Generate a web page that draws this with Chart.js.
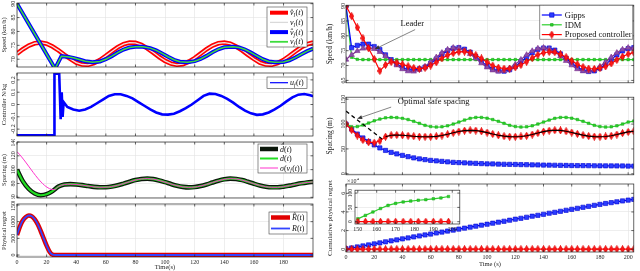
<!DOCTYPE html>
<html>
<head>
<meta charset="utf-8">
<script src="https://cdn.jsdelivr.net/npm/chart.js@4.4.1/dist/chart.umd.min.js"></script>
<style>
  html, body { margin: 0; padding: 0; background: #fff; }
  body { position: relative; width: 640px; height: 271px; overflow: hidden; }
  .plot { position: absolute; }
  .plot canvas { display: block; }
</style>
</head>
<body>
<script>
// ---- values ----
// right panel time base (markers every 4 s), also used for the leader on the left
const tR = [0,4,8,12,16,20,24,28,32,36,40,44,48,52,56,60,64,68,72,76,80,84,88,92,96,100,
  104,108,112,116,120,124,128,132,136,140,144,148,152,156,160,164,168,172,176,180,184,188,192,196,200,204];

const leaderSpeed = [72,73.6,74.9,75.75,76.0,75.6,74.6,73.2,71.6,70.1,68.8,68.1,68.0,68.6,69.7,71.2,
  72.8,74.3,75.4,76.0,75.9,75.2,73.9,72.4,70.8,69.4,68.4,68.0,68.2,69.1,70.4,72.0,73.6,74.9,75.75,
  76.0,75.6,74.6,73.2,71.6,70.1,68.8,68.1,68.0,68.6,69.7,71.2,72.8,74.3,75.4,76.0,75.9];
const gippsSpeed = [90,76,76.8,77.2,77.2,76.4,75.4,73.6,72.0,70.5,69.3,68.6,68.5,68.9,69.5,70.7,72.2,
  73.8,75.0,75.8,76.0,75.5,74.5,73.0,71.4,69.9,68.8,68.2,68.1,68.6,69.7,71.2,72.8,74.3,75.4,75.9,
  75.9,75.2,73.9,72.4,70.8,69.4,68.4,68.0,68.2,69.1,70.4,72.0,73.6,74.9,75.7,76.0];
const idmSpeed = [90,72.8,72.1,72,72,72,72,72,72,72,72,72,72,72,72,72,72,72,72,72,72,72,72,72,72,72,
  72,72,72,72,72,72,72,72,72,72,72,72,72,72,72,72,72,72,72,72,72,72,72,72,72,72];
const propSpeed = [90,86.6,82.8,79.2,75.8,72.2,68.2,70.2,71.2,71.0,70.4,69.8,69.2,68.9,69.2,70.0,71.1,
  72.4,73.5,74.2,74.6,74.7,74.3,73.5,72.4,71.1,70.0,69.3,69.0,69.0,69.4,70.2,71.3,72.5,73.6,74.3,
  74.6,74.5,73.8,72.8,71.6,70.4,69.5,69.0,68.9,69.1,69.7,70.7,71.9,73.0,73.9,74.4];

const gippsGap = [100,90,80,72,65,58,52,47,43,40,37,34.5,32,30,28.5,27,26,25,24,23,22.5,22,21.5,21,
  20.5,20,19.8,19.5,19.2,19,18.8,18.5,18.3,18,17.8,17.6,17.4,17.2,17,16.8,16.6,16.5,16.4,16.3,16.2,
  16.1,16,15.9,15.8,15.7,15.6,15.5];
const idmGap = [100,94.5,95,98,102,106.5,110,112.5,113.5,113,111.5,109,105.5,101.5,97.5,95,94,94.5,
  96.5,100,104,108,111.5,113.3,113.3,111.8,109,105.5,101.5,97.5,95,94,94.5,96.5,100,104,108,111.5,
  113.3,113.3,111.8,109,105.5,101.5,97.5,95,94,94.5,96.5,100,104,106];
const propGap = [100,88,77,68,63.5,62.5,66,74.5,77.5,78,77.5,76.5,75.5,74.8,74.5,74.6,75.4,77,79.5,
  82.5,85,86.8,87.5,87,85.3,82.8,80,77.5,75.6,74.7,74.5,75,76.5,79,82,84.8,86.8,87.6,87.2,85.5,83,
  80.2,77.7,75.8,74.8,74.5,75,76.5,79,81.8,84.2,85.5];
const optimalT = [0, 25.5];
const optimalV = [126, 70];

// cumulative physical regret, in units of 10^4
const gippsRegret = [0.05,0.13,0.24,0.35,0.46,0.57,0.68,0.79,0.9,1.0,1.11,1.21,1.32,1.42,1.53,1.63,
  1.74,1.84,1.95,2.05,2.16,2.26,2.37,2.47,2.58,2.68,2.79,2.9,3.0,3.11,3.22,3.32,3.43,3.54,3.64,3.75,
  3.86,3.96,4.07,4.18,4.28,4.39,4.5,4.6,4.71,4.81,4.91,5.0,5.09,5.18,5.27,5.35];
const propRegret = [0,0,0,0,0,0,0,0,0,0,0,0,0,0,0,0,0,0,0,0,0,0,0,0,0,0,
  0,0,0,0,0,0,0,0,0,0,0,0,0,0,0,0,0,0,0,0,0,0,0,0,0,0];
const insetT = [150,154,158,162,166,170,174,178,182,186,190,194,198];
const idmInset = [10,22,34,46,57,64,69,72,75,77,80,83,88];
const propInset = [0,0,0,0,0,0,0,0,0,0,0,0,0];

// left panel
const followerT = [0,25.7,30,34,38,42,46,51,56,60,64,68,72,76,80,85,90,94,98,102,106,110,115,120,
  124,128,132,136,140,146,150,154,158,162,166,170,174,180,184,188,192,196,200];
const followerV = [90,66.6,71.1,70.9,70.5,69.9,69.3,68.9,69.2,70.0,71.1,72.4,73.5,74.2,74.5,74.5,74.0,
  73.2,72.1,70.9,69.8,69.1,68.9,69.3,70.1,71.2,72.5,73.6,74.3,74.5,74.2,73.5,72.4,71.2,70.0,69.2,
  68.9,69.0,69.6,70.6,71.8,72.9,73.8];
const ctrlT = [0,25,25.3,28.5,29.5,30.2,30.8,31.5,34,38,42,46,50,54,58,62,66,70,74,78,82,86,90,94,
  98,102,106,110,114,118,122,126,130,134,138,142,146,150,154,158,162,166,170,174,178,182,186,190,194,198,200];
const ctrlV = [-0.25,-0.25,0.25,0.25,-0.12,0.1,-0.1,0.02,-0.02,-0.04,-0.05,-0.04,-0.02,0.01,0.04,0.07,
  0.083,0.083,0.07,0.05,0.02,-0.01,-0.04,-0.065,-0.08,-0.082,-0.075,-0.055,-0.03,0.0,0.035,0.07,0.088,
  0.085,0.07,0.045,0.015,-0.02,-0.05,-0.072,-0.084,-0.08,-0.065,-0.04,-0.01,0.025,0.058,0.08,0.085,0.075,0.068];
const gapLeft = [100,83,72,65.5,63,64.5,69,75.5,78.5,79,78.6,77.6,76.3,75.1,74.5,74.6,75.5,77.3,79.8,
  82.5,84.9,86.5,87,86.3,84.4,81.9,79.2,76.8,75.1,74.4,74.8,76.3,78.6,81.4,84,86,87,86.6,84.9,82.4,
  79.6,77.1,75.3,74.5,74.5,75.4,76.9,78.6,80.2,81.5,82.4];
const sigmaT = [0, 25];
const sigmaV = [126, 71];
const regT = [0,2,4,6,8,10,12,14,16,18,20,22,24,26,28,200];
const regV = [600,860,1040,1140,1185,1160,1070,920,720,500,280,100,10,0,0,0];

// tick labels
const leftXTicks = [0,20,40,60,80,100,120,140,160,180];
const rightXTicks = [0,20,40,60,80,100,120,140,160,180,200];
const insetXTicks = [150,160,170,180,190,200];

// ---- drawing helpers ----
const INK = '#262626', GRID = '#e3e3e3';
const FONT = '"Liberation Serif", "DejaVu Serif", serif';
Chart.defaults.font.family = FONT;
Chart.defaults.color = INK;

function pts(T, V) { return V.map((v, i) => ({ x: T[i], y: v })); }

function line(data, color, width, extra) {
  return Object.assign({ data, borderColor: color, backgroundColor: color, borderWidth: width,
    pointRadius: 0, fill: false, tension: 0 }, extra || {});
}

function diamondImg(w, h, fill, stroke) {
  const c = document.createElement('canvas');
  c.width = w; c.height = h;
  const g = c.getContext('2d');
  g.beginPath();
  g.moveTo(w / 2, 0.5); g.lineTo(w - 0.5, h / 2); g.lineTo(w / 2, h - 0.5); g.lineTo(0.5, h / 2);
  g.closePath();
  g.fillStyle = fill; g.fill();
  g.strokeStyle = stroke; g.lineWidth = 0.9; g.stroke();
  return c;
}
const redDiamond = diamondImg(5, 8, '#ff1a1a', '#e00000');

function drawParts(ctx, x, y, parts, size) {
  ctx.textAlign = 'left'; ctx.textBaseline = 'alphabetic'; ctx.fillStyle = '#111';
  const base = y + size * 0.33;
  parts.forEach(([t, k]) => {
    const sub = k === 's';
    const fs = sub ? size * 0.72 : size;
    ctx.font = (k === 'n' ? '' : 'italic ') + fs + 'px ' + FONT;
    ctx.fillText(t, x, base + (sub ? size * 0.22 : 0));
    x += ctx.measureText(t).width + (sub ? 0.4 : 0);
  });
}

function drawMarker(ctx, m, x, y) {
  if (m.img) { ctx.drawImage(m.img, x - m.img.width / 2, y - m.img.height / 2); return; }
  ctx.fillStyle = m.fill; ctx.strokeStyle = m.stroke; ctx.lineWidth = 0.6;
  ctx.beginPath(); ctx.rect(x - m.s / 2, y - m.s / 2, m.s, m.s); ctx.fill(); ctx.stroke();
}

function arrow(ctx, x0, y0, x1, y1) {
  const a = Math.atan2(y1 - y0, x1 - x0), L = 5, W = 2, c = Math.cos(a), s = Math.sin(a);
  ctx.strokeStyle = '#333'; ctx.fillStyle = '#333'; ctx.lineWidth = 0.6;
  ctx.beginPath(); ctx.moveTo(x0, y0); ctx.lineTo(x1 - L * 0.8 * c, y1 - L * 0.8 * s); ctx.stroke();
  ctx.beginPath(); ctx.moveTo(x1, y1);
  ctx.lineTo(x1 - L * c + W * s, y1 - L * s - W * c);
  ctx.lineTo(x1 - L * c - W * s, y1 - L * s + W * c);
  ctx.closePath(); ctx.fill();
}

// box around the axes with inward tick marks
const frame = {
  id: 'frame',
  afterDatasetsDraw(chart) {
    const { ctx, chartArea: a, scales: { x, y } } = chart;
    ctx.save();
    ctx.strokeStyle = INK; ctx.lineWidth = 0.7;
    ctx.strokeRect(a.left, a.top, a.right - a.left, a.bottom - a.top);
    ctx.beginPath();
    x.ticks.forEach(t => {
      const p = x.getPixelForValue(t.value);
      ctx.moveTo(p, a.bottom); ctx.lineTo(p, a.bottom - 2.5);
      ctx.moveTo(p, a.top); ctx.lineTo(p, a.top + 2.5);
    });
    y.ticks.forEach(t => {
      const p = y.getPixelForValue(t.value);
      ctx.moveTo(a.left, p); ctx.lineTo(a.left + 2.5, p);
      ctx.moveTo(a.right, p); ctx.lineTo(a.right - 2.5, p);
    });
    ctx.stroke();
    ctx.restore();
  }
};

// y tick labels written sideways, like the original
function yLabels(vals, labels, size, gap) {
  return {
    id: 'ylab',
    afterDraw(chart) {
      const { ctx, chartArea: a, scales: { y } } = chart;
      ctx.save();
      ctx.font = size + 'px ' + FONT;
      ctx.fillStyle = INK; ctx.textAlign = 'center'; ctx.textBaseline = 'alphabetic';
      vals.forEach((v, i) => {
        ctx.save();
        ctx.translate(a.left - gap, y.getPixelForValue(v));
        ctx.rotate(-Math.PI / 2);
        ctx.fillText(labels[i], 0, 0);
        ctx.restore();
      });
      ctx.restore();
    }
  };
}

function legendBox(L) {
  return {
    id: 'lbox',
    afterDraw(chart) {
      const { ctx, chartArea: a } = chart;
      const x = a.right - L.right - L.w, y = a.top + L.top;
      ctx.save();
      ctx.fillStyle = '#fff'; ctx.fillRect(x, y, L.w, L.h);
      ctx.strokeStyle = '#444'; ctx.lineWidth = 0.6; ctx.strokeRect(x, y, L.w, L.h);
      L.rows.forEach((r, i) => {
        const cy = y + L.first + i * L.step;
        r.strokes.forEach(([col, w]) => {
          ctx.strokeStyle = col; ctx.lineWidth = w;
          ctx.beginPath(); ctx.moveTo(x + L.l0, cy); ctx.lineTo(x + L.l1, cy); ctx.stroke();
        });
        if (r.marker) drawMarker(ctx, r.marker, x + (L.l0 + L.l1) / 2, cy);
        drawParts(ctx, x + L.tx, cy, r.parts, L.size);
      });
      ctx.restore();
    }
  };
}

function note(n) {
  return {
    id: 'note',
    afterDraw(chart) {
      const { ctx, scales: { x, y } } = chart;
      const X = v => x.getPixelForValue(v), Y = v => y.getPixelForValue(v);
      ctx.save();
      ctx.font = n.size + 'px ' + FONT; ctx.fillStyle = '#111';
      ctx.textAlign = n.align; ctx.textBaseline = 'middle';
      ctx.fillText(n.text, X(n.at[0]), Y(n.at[1]));
      arrow(ctx, X(n.from[0]), Y(n.from[1]), X(n.to[0]), Y(n.to[1]));
      ctx.restore();
    }
  };
}

const expLabel = {
  id: 'exp',
  afterDraw(chart) {
    const { ctx, chartArea: a } = chart;
    ctx.save();
    ctx.fillStyle = INK; ctx.textAlign = 'left'; ctx.textBaseline = 'alphabetic';
    ctx.font = '6px ' + FONT;
    ctx.fillText('\u00d710', a.left + 1, a.top - 1.5);
    const w = ctx.measureText('\u00d710').width;
    ctx.font = '4.5px ' + FONT;
    ctx.fillText('4', a.left + 1.3 + w, a.top - 4);
    ctx.restore();
  }
};

const whiteArea = {
  id: 'bg',
  beforeDraw(chart) {
    const { ctx, chartArea: a } = chart;
    ctx.save(); ctx.fillStyle = '#fff';
    ctx.fillRect(a.left, a.top, a.right - a.left, a.bottom - a.top);
    ctx.restore();
  }
};

// one subplot: g.box is the plot area on the page, g.pad the room around it
function makePlot(g) {
  const [x0, y0, x1, y1] = g.box, p = g.pad;
  const div = document.createElement('div');
  div.className = 'plot';
  div.style.left = (x0 - p.l) + 'px';
  div.style.top = (y0 - p.t) + 'px';
  div.style.width = (p.l + (x1 - x0) + p.r) + 'px';
  div.style.height = (p.t + (y1 - y0) + p.b + 1) + 'px';
  const cv = document.createElement('canvas');
  div.appendChild(cv);
  document.body.appendChild(div);

  new Chart(cv, {
    type: 'line',
    data: { datasets: g.datasets },
    options: {
      responsive: true, maintainAspectRatio: false, animation: false, events: [],
      layout: { padding: { left: 0, top: p.t, right: p.r, bottom: 1 } },
      plugins: { legend: { display: false }, tooltip: { enabled: false } },
      scales: {
        x: {
          type: 'linear', min: g.x.min, max: g.x.max,
          afterBuildTicks: ax => { ax.ticks = g.x.ticks.map(v => ({ value: v })); },
          afterFit: ax => { ax.height = p.b; },
          grid: { color: GRID, lineWidth: 0.6, drawTicks: false },
          border: { display: false },
          ticks: { display: !!g.x.labels, font: { size: 6 }, padding: 1.5, maxRotation: 0, autoSkip: false },
          title: { display: !!g.x.title, text: g.x.title || '', font: { size: 6.5 },
                   padding: { top: 0, bottom: g.x.titlePad || 0 } }
        },
        y: {
          type: 'linear', min: g.y.min, max: g.y.max,
          afterBuildTicks: ax => { ax.ticks = g.y.ticks.map(v => ({ value: v })); },
          afterFit: ax => { ax.width = p.l; },
          grid: { color: GRID, lineWidth: 0.6, drawTicks: false },
          border: { display: false },
          ticks: { display: false },
          title: { display: !!g.y.title, text: g.y.title || '', font: { size: g.y.ts || 6.5 },
                   padding: { top: g.y.tp || 0, bottom: 0 } }
        }
      }
    },
    plugins: [frame, yLabels(g.y.ticks, g.y.labels, g.y.size || 6, g.y.gap)]
      .concat(g.legend ? [legendBox(g.legend)] : [], g.extra || [])
  });
}

const RED = '#ff0000', BLUE = '#0000ff', GREEN = '#2ccf2c', PURPLE = '#7e2f8e';
const hatVl = [['v\u0302', 'i'], ['l', 's'], ['(', 'n'], ['t', 'i'], [')', 'n']];
const vl = [['v', 'i'], ['l', 's'], ['(', 'n'], ['t', 'i'], [')', 'n']];
const hatVf = [['v\u0302', 'i'], ['f', 's'], ['(', 'n'], ['t', 'i'], [')', 'n']];
const vf = [['v', 'i'], ['f', 's'], ['(', 'n'], ['t', 'i'], [')', 'n']];

// ================= left panel =================
const leftX = { min: 0, max: 199.9, ticks: leftXTicks };

makePlot({
  box: [17, 3, 313, 67], pad: { l: 17, t: 3, b: 0, r: 2 },
  x: leftX,
  y: { min: 67.2, max: 90.25, ticks: [70, 75, 80, 85, 90], labels: ['70', '75', '80', '85', '90'],
       title: 'Speed (km/h)', tp: 0.5, gap: 2 },
  datasets: [
    line(pts(followerT, followerV), '#3ddc3d', 1.5),
    line(pts(followerT, followerV), BLUE, 4),
    line(pts(tR, leaderSpeed), '#f1e2e2', 1.3),
    line(pts(tR, leaderSpeed), RED, 4.6)
  ],
  legend: { right: 6, top: 4, w: 40, h: 40, first: 5.7, step: 9.7, l0: 3, l1: 21, tx: 23, size: 8,
    rows: [
      { strokes: [[RED, 4]], parts: hatVl },
      { strokes: [['#d9d9d9', 1.3]], parts: vl },
      { strokes: [[BLUE, 4]], parts: hatVf },
      { strokes: [['#3ddc3d', 1.8]], parts: vf }
    ] }
});

makePlot({
  box: [17, 73, 313, 136], pad: { l: 17, t: 3, b: 0, r: 2 },
  x: leftX,
  y: { min: -0.256, max: 0.256, ticks: [-0.2, -0.1, 0, 0.1, 0.2],
       labels: ['-0.2', '-0.1', '0', '0.1', '0.2'], title: 'Controller N/kg', tp: 0.5, gap: 2 },
  datasets: [ line(pts(ctrlT, ctrlV), BLUE, 2.6) ],
  legend: { right: 6, top: 4, w: 40, h: 11.5, first: 5.7, step: 10, l0: 3, l1: 21, tx: 23, size: 8,
    rows: [ { strokes: [[BLUE, 1.2]], parts: [['u', 'i'], ['f', 's'], ['(', 'n'], ['t', 'i'], [')', 'n']] } ] }
});

makePlot({
  box: [17, 142, 313, 198], pad: { l: 17, t: 3, b: 0, r: 2 },
  x: leftX,
  y: { min: 59, max: 140, ticks: [60, 80, 100, 120, 140], labels: ['60', '80', '100', '120', '140'],
       title: 'Spacing (m)', tp: 0.5, gap: 2 },
  datasets: [
    line(pts(sigmaT.concat(tR.slice(7, 51)), sigmaV.concat(gapLeft.slice(7))), '#ff33cc', 1,
         { cubicInterpolationMode: 'monotone' }),
    line(pts(tR, gapLeft), '#22dd22', 2.2, { cubicInterpolationMode: 'monotone' }),
    line(pts(tR, gapLeft), '#0b170b', 4.6, { cubicInterpolationMode: 'monotone' })
  ],
  legend: { right: 6, top: 2, w: 49, h: 29, first: 5, step: 9.5, l0: 2, l1: 20, tx: 22, size: 8,
    rows: [
      { strokes: [['#0b170b', 4.5]], parts: [['d\u0302', 'i'], ['(', 'n'], ['t', 'i'], [')', 'n']] },
      { strokes: [['#22dd22', 2]], parts: [['d', 'i'], ['(', 'n'], ['t', 'i'], [')', 'n']] },
      { strokes: [['#ff33cc', 1]], parts: [['\u03c3', 'i'], ['(', 'n'], ['v', 'i'], ['f', 's'], ['(', 'n'], ['t', 'i'], ['))', 'n']] }
    ] }
});

makePlot({
  box: [17, 204, 313, 257], pad: { l: 17, t: 3, b: 14, r: 2 },
  x: Object.assign({ labels: true, title: 'Time(s)' }, leftX),
  y: { min: -60, max: 1530, ticks: [0, 500, 1000, 1500], labels: ['0', '500', '1000', '1500'],
       title: 'Physical regret', tp: 0.5, gap: 2 },
  datasets: [
    line(pts(regT, regV), '#3344ff', 1.8, { cubicInterpolationMode: 'monotone' }),
    line(pts(regT, regV), '#e00000', 4.6, { cubicInterpolationMode: 'monotone' })
  ],
  legend: { right: 6, top: 8, w: 38, h: 22, first: 5.5, step: 11, l0: 2, l1: 21, tx: 23, size: 8,
    rows: [
      { strokes: [['#e00000', 4.5]], parts: [['R\u0302', 'i'], ['(', 'n'], ['t', 'i'], [')', 'n']] },
      { strokes: [['#3344ff', 1.8]], parts: [['R', 'i'], ['(', 'n'], ['t', 'i'], [')', 'n']] }
    ] }
});

// ================= right panel =================
const rightX = { min: 0, max: 204, ticks: rightXTicks };
const gippsStyle = { pointRadius: 3, pointStyle: 'rect', pointBackgroundColor: '#2a3cff',
                     pointBorderColor: '#0000d0', pointBorderWidth: 0.6 };
const idmStyle = { pointRadius: 1.8, pointStyle: 'rect', pointBackgroundColor: GREEN,
                   pointBorderColor: '#1aa81a', pointBorderWidth: 0.5 };
const propStyle = { pointRadius: 3, pointStyle: redDiamond };
const leaderStyle = { pointRadius: 3.2, pointStyle: 'triangle', pointBackgroundColor: '#8a4fa8',
                      pointBorderColor: PURPLE, pointBorderWidth: 0.6 };

makePlot({
  box: [346, 3, 637, 87], pad: { l: 26, t: 3, b: 0, r: 2 },
  x: rightX,
  y: { min: 64.2, max: 90.3, ticks: [65, 70, 75, 80, 85, 90], labels: ['65', '70', '75', '80', '85', '90'],
       title: 'Speed (km/h)', ts: 7.5, tp: 5.5, gap: 1 },
  datasets: [
    line(pts(tR, propSpeed), RED, 1.2, propStyle),
    line(pts(tR, leaderSpeed), PURPLE, 1.2, leaderStyle),
    line(pts(tR, gippsSpeed), BLUE, 1.2, gippsStyle),
    line(pts(tR, idmSpeed), GREEN, 1.2, idmStyle)
  ],
  legend: { right: 1, top: 0, w: 93, h: 34, first: 9.8, step: 9.8, l0: 2, l1: 22, tx: 25, size: 8.5,
    rows: [
      { strokes: [[BLUE, 1.2]], marker: { s: 4.4, fill: '#2a3cff', stroke: '#0000d0' }, parts: [['Gipps', 'n']] },
      { strokes: [[GREEN, 1.2]], marker: { s: 2.6, fill: GREEN, stroke: '#1aa81a' }, parts: [['IDM', 'n']] },
      { strokes: [[RED, 1.2]], marker: { img: redDiamond }, parts: [['Proposed controller', 'n']] }
    ] },
  extra: [ note({ text: 'Leader', size: 8.5, align: 'center', at: [47, 84.0], from: [49, 82.1], to: [20.3, 75.5] }) ]
});

makePlot({
  box: [346, 95, 637, 179], pad: { l: 26, t: 3, b: 0, r: 2 },
  x: rightX,
  y: { min: -2, max: 154, ticks: [0, 50, 100, 150], labels: ['0', '50', '100', '150'],
       title: 'Spacing (m)', ts: 7.5, tp: 5.5, gap: 1 },
  datasets: [
    line(pts(tR.slice(7), propGap.slice(7)), '#000', 1.2),
    line(pts(optimalT, optimalV), '#000', 1.3, { borderDash: [4, 3] }),
    line(pts(tR, propGap), RED, 1.2, propStyle),
    line(pts(tR, idmGap), GREEN, 1.2, idmStyle),
    line(pts(tR, gippsGap), BLUE, 1.2, gippsStyle)
  ],
  extra: [ note({ text: 'Optimal safe spacing', size: 8.5, align: 'left', at: [36.7, 144.7], from: [32, 134.1], to: [7.9, 110.7] }) ]
});

makePlot({
  box: [346, 184, 637, 252], pad: { l: 26, t: 6, b: 19, r: 2 },
  x: Object.assign({ labels: true, title: 'Time (s)', titlePad: 2.5 }, rightX),
  y: { min: -0.3, max: 7, ticks: [0, 2, 4, 6], labels: ['0', '2', '4', '6'],
       title: 'Cumulative physical regret', ts: 7, tp: 5.8, gap: 1 },
  datasets: [
    line(pts(tR, propRegret), RED, 1.2, propStyle),
    line(pts(tR, gippsRegret), BLUE, 1.2, gippsStyle)
  ],
  extra: [expLabel]
});

// zoomed inset, t = 150..200
makePlot({
  box: [355, 187, 463, 224], pad: { l: 10, t: 2, b: 8, r: 2 },
  x: { min: 148.5, max: 204, ticks: insetXTicks, labels: true },
  y: { min: -8, max: 110, ticks: [0, 50, 100], labels: ['0', '50', '100'], size: 5.5, gap: 3 },
  datasets: [
    line(pts(insetT, propInset), RED, 1.2, propStyle),
    line(pts(insetT, idmInset), GREEN, 1.2, idmStyle)
  ],
  extra: [whiteArea]
});
</script>
</body>
</html>
